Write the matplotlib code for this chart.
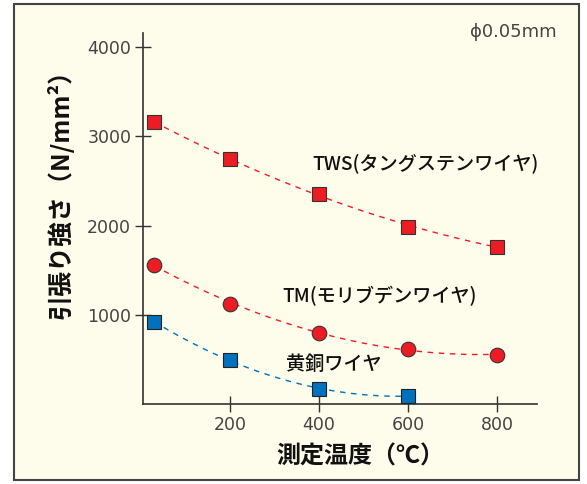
import numpy as np
import matplotlib
matplotlib.use("Agg")
import matplotlib.pyplot as plt
from matplotlib.patches import Rectangle

plt.rcParams['font.family'] = ['Noto Sans CJK JP', 'DejaVu Sans']

# measured temperatures (deg C)
temp_tws = [30, 200, 400, 600, 800]
temp_tm = [30, 200, 400, 600, 800]
temp_brass = [30, 200, 400, 600]

# tensile strength (N/mm2)
tws = [3160, 2750, 2350, 1990, 1765]
tm = [1560, 1125, 800, 618, 550]
brass = [920, 495, 170, 90]

labels = ['TWS(タングステンワイヤ)', 'TM(モリブデンワイヤ)', '黄銅ワイヤ']
red = '#ED1C24'
blue = '#0071BC'
cream = '#FEFCEA'

fig = plt.figure(figsize=(5.87, 4.84), dpi=100, facecolor='white')
fig.patches.append(Rectangle((14 / 587, 4 / 484), 565 / 587, 476 / 484,
                             transform=fig.transFigure, facecolor=cream,
                             edgecolor='#444444', linewidth=1.5, zorder=-5))

ax = fig.add_axes([143 / 587, 80 / 484, 394 / 587, 371 / 484])
ax.set_facecolor('none')
ax.set_zorder(2)


def trend(x, y, color):
    # dashed trend line (quadratic fit through the points)
    c = np.polyfit(x, y, 2)
    xs = np.linspace(x[0], x[-1], 100)
    ax.plot(xs, np.polyval(c, xs), '--', color=color, lw=1.0, dashes=(4, 4), zorder=2)


trend(temp_tws, tws, red)
trend(temp_tm, tm, red)
trend(temp_brass, brass, blue)

ax.plot(temp_tws, tws, 's', ms=9.5, mfc=red, mec='#333333', mew=0.8, zorder=3)
ax.plot(temp_tm, tm, 'o', ms=10.5, mfc=red, mec='#333333', mew=0.8, zorder=3)
ax.plot(temp_brass, brass, 's', ms=9.5, mfc=blue, mec='#222222', mew=0.8, zorder=3)

ax.set_xlim(5, 890)
ax.set_ylim(0, 4160)
ax.set_xticks([200, 400, 600, 800])
ax.set_yticks([1000, 2000, 3000, 4000])
ax.spines['top'].set_visible(False)
ax.spines['right'].set_visible(False)
for s in ['left', 'bottom']:
    ax.spines[s].set_color('#333333')
    ax.spines[s].set_linewidth(1.2)
ax.tick_params(direction='inout', length=11, width=1.0, color='#333333',
               labelsize=12.5, labelcolor='#444444', pad=3,
               labelfontfamily='DejaVu Sans')

ax.text(386, 2697, labels[0], fontsize=13.8, color='#111111', fontweight='medium', va='center')
ax.text(319, 1213, labels[1], fontsize=13.8, color='#111111', fontweight='medium', va='center')
ax.text(326, 449, labels[2], fontsize=13.8, color='#111111', fontweight='medium', va='center')
fig.text(557 / 587, 1 - 32 / 484, 'ϕ0.05mm', fontsize=13, color='#444444',
         ha='right', va='center', family='DejaVu Sans')

fig.text(60 / 587, 1 - 188 / 484, '引張り強さ（N/mm²）', rotation=90, fontsize=18,
         ha='center', va='center', color='#111111', fontweight='bold')
fig.text(360 / 587, 1 - 457 / 484, '測定温度（℃）', fontsize=17.3,
         ha='center', va='center', color='#111111', fontweight='bold')

fig.savefig('out.png', dpi=100, facecolor=fig.get_facecolor())
